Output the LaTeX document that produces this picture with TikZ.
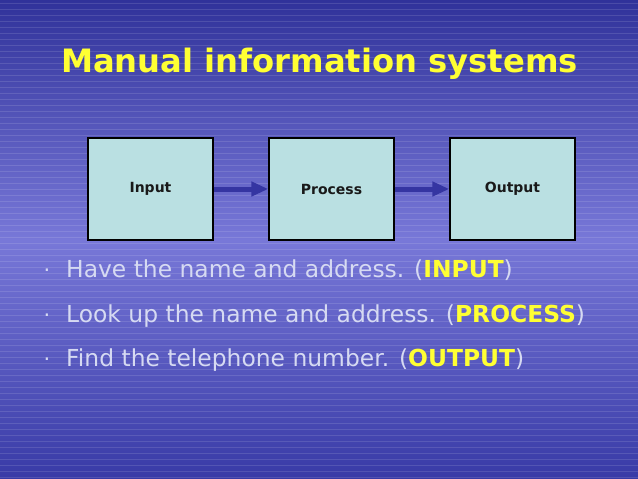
\documentclass[tikz,border=0pt]{standalone}
\usepackage{fontspec}
\setmainfont{DejaVu Sans}
\usetikzlibrary{arrows.meta}
\definecolor{bgtop}{HTML}{30329A}
\definecolor{bgmid}{HTML}{7878D8}
\definecolor{bgbot}{HTML}{383AA6}
\definecolor{boxfill}{HTML}{BAE0E2}
\definecolor{arrowc}{HTML}{3535A2}
\definecolor{ttl}{HTML}{FFFF33}
\definecolor{bodyc}{HTML}{D6DAF2}
\tikzset{
  stagebox/.style={draw=black, line width=1.3pt, fill=boxfill, minimum width=125pt, minimum height=102pt, inner sep=0pt, font=\fontsize{14}{16}\selectfont\bfseries, text=black!90},
  flow/.style={draw=arrowc, line width=5pt, -{Triangle[length=17pt,width=14pt]}, shorten >=0pt},
  bodytext/.style={anchor=base west, inner sep=0pt, text=bodyc, font=\fontsize{23.4}{27}\selectfont},
  bulletdot/.style={anchor=base, inner sep=0pt, text=bodyc, font=\fontsize{21}{25}\selectfont},
}
\newcommand{\kw}[1]{\textcolor{ttl}{\bfseries #1}}
\begin{document}
\begin{tikzpicture}[x=1pt,y=-1pt]
\useasboundingbox (0,0) rectangle (638,479);
\shade[top color=bgtop, bottom color=bgmid] (0,0) rectangle (638,240);
\shade[top color=bgmid, bottom color=bgbot] (0,240) rectangle (638,479);
\foreach \yy in {3,9,15,21,27,33,39,45,51,57,63,69,75,81,87,93,99,105,111,117,123,129,135,141,147,153,159,165,171,177,183,189,195,201,207,213,219,225,231,237,243,249,255,261,267,273,279,285,291,297,303,309,315,321,327,333,339,345,351,357,363,369,375,381,387,393,399,405,411,417,423,429,435,441,447,453,459,465,471,477}
  \draw[white, opacity=0.12, line width=0.8pt] (0,\yy) -- (638,\yy);
\node[anchor=base, inner sep=0pt, text=ttl, font=\fontsize{32.2}{38}\selectfont\bfseries] (title) at (319.5,72) {Manual information systems};
\node[stagebox] (in) at (150.5,189) {Input};
\node[stagebox] (pr) at (331.5,189) {Process};
\node[stagebox] (out) at (512.5,189) {Output};
\draw[flow] (in.east) -- (pr.west);
\draw[flow] (pr.east) -- (out.west);
\node[bulletdot] (b1) at (47,277) {·};
\node[bodytext] (l1) at (66,277) {Have the name and address. (\kw{INPUT})};
\node[bulletdot] (b2) at (47,322) {·};
\node[bodytext] (l2) at (66,322) {Look up the name and address. (\kw{PROCESS})};
\node[bulletdot] (b3) at (47,366) {·};
\node[bodytext] (l3) at (66,366) {Find the telephone number. (\kw{OUTPUT})};
\end{tikzpicture}
\end{document}
